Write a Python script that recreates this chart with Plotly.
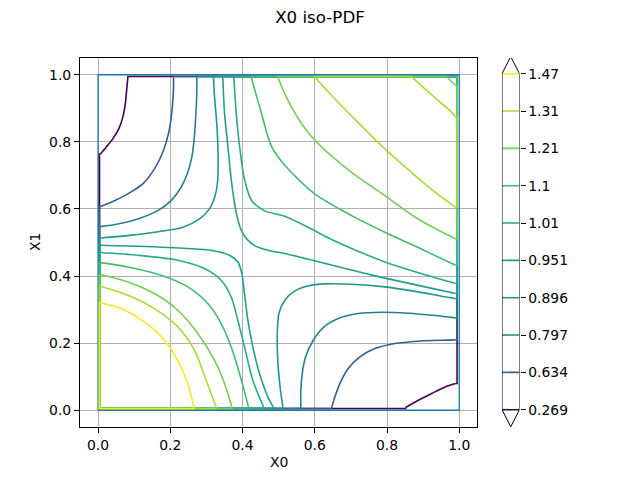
import plotly.graph_objects as go
from plotly.colors import sample_colorscale

# ---------------- data ----------------
levels = [0.269, 0.634, 0.797, 0.896, 0.951, 1.01, 1.1, 1.21, 1.31, 1.47]
level_labels = ["0.269", "0.634", "0.797", "0.896", "0.951", "1.01", "1.1", "1.21", "1.31", "1.47"]
axis_ticks = [0.0, 0.2, 0.4, 0.6, 0.8, 1.0]
axis_ticktext = ["0.0", "0.2", "0.4", "0.6", "0.8", "1.0"]

# contour offsets along the domain edges (contours hug the boundary where PDF drops to 0)
edge_left, edge_bottom, edge_right, edge_top = 0.004, 0.005, 0.994, 0.995

# top-left pieces (left edge -> top edge)
tl_0269_x = [0.0066, 0.0222, 0.0407, 0.0573, 0.0684, 0.0759, 0.0795, 0.0826]
tl_0269_y = [0.764, 0.784, 0.809, 0.8385, 0.873, 0.918, 0.958, 0.9935]
tl_0634_x = [0.0066, 0.0407, 0.0823, 0.1238, 0.1561, 0.1792, 0.1958, 0.2042, 0.2088, 0.2088]
tl_0634_y = [0.607, 0.622, 0.6448, 0.6746, 0.7193, 0.769, 0.8286, 0.888, 0.958, 0.9935]
tl_0797_x = [0.0066, 0.0546, 0.1100, 0.1654, 0.2023, 0.2300, 0.2485, 0.2604, 0.2669, 0.2706, 0.2734, 0.2734]
tl_0797_y = [0.5474, 0.5554, 0.5703, 0.5951, 0.625, 0.6647, 0.7094, 0.759, 0.8187, 0.8783, 0.9478, 0.9935]
tl_0896_x = [0.0066, 0.0823, 0.1561, 0.2346, 0.2808, 0.3085, 0.3242, 0.3307, 0.3325, 0.3297, 0.3223, 0.3196]
tl_0896_y = [0.5136, 0.5206, 0.5306, 0.5455, 0.5703, 0.6001, 0.6398, 0.6796, 0.7392, 0.8385, 0.9379, 0.9935]

# bottom-right pieces (right edge -> bottom edge)
br_0269_x = [0.9899, 0.9604, 0.9234, 0.8865, 0.8514]
br_0269_y = [0.0795, 0.0695, 0.0497, 0.0298, 0.008]
br_0634_x = [0.9899, 0.9512, 0.8865, 0.8219, 0.7665, 0.7249, 0.6926, 0.6695, 0.6556, 0.6465]
br_0634_y = [0.2096, 0.2086, 0.2057, 0.1987, 0.1838, 0.159, 0.1242, 0.0795, 0.0397, 0.0069]
br_0797_x = [0.9899, 0.9327, 0.8588, 0.7850, 0.7203, 0.6649, 0.6234, 0.5957, 0.5745, 0.5652, 0.5615, 0.5615]
br_0797_y = [0.2752, 0.2822, 0.2891, 0.2921, 0.2881, 0.2732, 0.2464, 0.2086, 0.159, 0.1093, 0.0596, 0.0069]
br_0896_x = [0.9899, 0.9512, 0.8865, 0.7941, 0.7018, 0.6280, 0.5818, 0.5449, 0.5172, 0.5010, 0.4962, 0.4975, 0.5040, 0.5116]
br_0896_y = [0.3328, 0.3398, 0.3527, 0.3676, 0.3756, 0.3766, 0.3706, 0.3557, 0.3279, 0.290, 0.2300, 0.1500, 0.0700, 0.0099]

# bottom-left pieces (left edge -> bottom edge)
bl_0951_x = [0.0066, 0.1100, 0.2485, 0.3223, 0.3639, 0.3870, 0.3981, 0.4054, 0.4147, 0.4285, 0.4470, 0.4701, 0.4848]
bl_0951_y = [0.4918, 0.4888, 0.4819, 0.4749, 0.462, 0.4421, 0.4074, 0.3478, 0.2683, 0.1888, 0.1093, 0.0397, 0.0099]
bl_101_x = [0.0066, 0.1100, 0.2208, 0.2947, 0.3408, 0.3685, 0.3870, 0.4054, 0.4285, 0.4581]
bl_101_y = [0.470, 0.462, 0.4471, 0.4223, 0.3875, 0.3378, 0.2683, 0.1888, 0.0894, 0.0099]
bl_11_x = [0.0066, 0.0823, 0.1746, 0.2485, 0.3039, 0.3408, 0.3685, 0.3916, 0.4165]
bl_11_y = [0.440, 0.4272, 0.4024, 0.3676, 0.318, 0.2583, 0.1888, 0.1093, 0.0099]
bl_121_x = [0.0066, 0.0823, 0.1561, 0.2208, 0.2762, 0.3223, 0.3500, 0.3704]
bl_121_y = [0.4044, 0.3825, 0.3478, 0.2981, 0.2285, 0.149, 0.0795, 0.0099]
bl_131_x = [0.0066, 0.0823, 0.1561, 0.2208, 0.2670, 0.2993, 0.3270]
bl_131_y = [0.3696, 0.3428, 0.303, 0.2484, 0.1788, 0.0894, 0.0099]
bl_147_x = [0.0066, 0.0638, 0.1284, 0.1838, 0.2254, 0.2485, 0.2651]
bl_147_y = [0.320, 0.303, 0.2633, 0.2086, 0.1391, 0.0795, 0.0099]

# top-right pieces (top edge -> right edge)
tr_0951_x = [0.3454, 0.3500, 0.3593, 0.3685, 0.3824, 0.397, 0.412, 0.435, 0.47, 0.5255, 0.75, 0.9899]
tr_0951_y = [0.9935, 0.888, 0.789, 0.6895, 0.590, 0.535, 0.510, 0.490, 0.477, 0.465, 0.405, 0.348]
tr_101_x = [0.3759, 0.3824, 0.3916, 0.405, 0.425, 0.46, 0.517, 0.600, 0.6465, 0.8, 0.9899]
tr_101_y = [0.9935, 0.888, 0.789, 0.69, 0.625, 0.595, 0.578, 0.535, 0.509, 0.44, 0.378]
tr_11_x = [0.4239, 0.4516, 0.4793, 0.517, 0.600, 0.702, 0.794, 0.886, 0.9899]
tr_11_y = [0.9935, 0.888, 0.789, 0.730, 0.645, 0.580, 0.5306, 0.485, 0.432]
tr_121_x = [0.4978, 0.517, 0.56, 0.600, 0.702, 0.794, 0.886, 0.9899]
tr_121_y = [0.9935, 0.943, 0.86, 0.805, 0.709, 0.640, 0.570, 0.5107]
tr_121_corner_x = [0.9899, 0.9658]
tr_121_corner_y = [0.968, 0.9935]
tr_131_x = [0.600, 0.6557, 0.720, 0.794, 0.868, 0.933, 0.9899]
tr_131_y = [0.9935, 0.928, 0.858, 0.779, 0.709, 0.650, 0.605]
tr_131_inner_x = [0.9899, 0.979, 0.942, 0.905, 0.868]
tr_131_inner_y = [0.873, 0.888, 0.923, 0.958, 0.9935]

domain_x = [0, 1, 1, 0, 0]
domain_y = [0, 0, 1, 1, 0]


# ---------------- build contour paths: (edge polylines, interior curves) ----------------
def full_loop(tlx, tly, brx, bry):
    edges = [
        ([tlx[-1], tlx[-1], edge_right, edge_right, brx[0]], [tly[-1], edge_top, edge_top, bry[0], bry[0]]),
        ([brx[-1], brx[-1], edge_left, edge_left, tlx[0]], [bry[-1], edge_bottom, edge_bottom, tly[0], tly[0]]),
    ]
    return edges, [(list(tlx), list(tly)), (list(brx), list(bry))]


def bl_loop(x, y):
    edges = [([x[-1], x[-1], edge_left, edge_left, x[0]], [y[-1], edge_bottom, edge_bottom, y[0], y[0]])]
    return edges, [(list(x), list(y))]


def tr_loop(x, y, notch=None):
    curves = [(list(x), list(y))]
    if notch is None:
        edges = [([x[-1], edge_right, edge_right, x[0], x[0]], [y[-1], y[-1], edge_top, edge_top, y[0]])]
    else:
        nx, ny = notch
        edges = [([x[-1], edge_right, edge_right, nx[0]], [y[-1], y[-1], ny[0], ny[0]]),
                 ([nx[-1], nx[-1], x[0], x[0]], [ny[-1], edge_top, edge_top, y[0]])]
        curves.append((list(nx), list(ny)))
    return edges, curves


def combine(pieces):
    ex, ey, cx, cy = [], [], [], []
    for edges, curves in pieces:
        for px, py in edges:
            ex += px + [None]
            ey += py + [None]
        for px, py in curves:
            cx += px + [None]
            cy += py + [None]
    return (ex, ey), (cx, cy)


level_paths = [
    combine([full_loop(tl_0269_x, tl_0269_y, br_0269_x, br_0269_y)]),
    combine([full_loop(tl_0634_x, tl_0634_y, br_0634_x, br_0634_y)]),
    combine([full_loop(tl_0797_x, tl_0797_y, br_0797_x, br_0797_y)]),
    combine([full_loop(tl_0896_x, tl_0896_y, br_0896_x, br_0896_y)]),
    combine([bl_loop(bl_0951_x, bl_0951_y), tr_loop(tr_0951_x, tr_0951_y)]),
    combine([bl_loop(bl_101_x, bl_101_y), tr_loop(tr_101_x, tr_101_y)]),
    combine([bl_loop(bl_11_x, bl_11_y), tr_loop(tr_11_x, tr_11_y)]),
    combine([bl_loop(bl_121_x, bl_121_y), tr_loop(tr_121_x, tr_121_y, (tr_121_corner_x, tr_121_corner_y))]),
    combine([bl_loop(bl_131_x, bl_131_y), tr_loop(tr_131_x, tr_131_y, (tr_131_inner_x, tr_131_inner_y))]),
    combine([bl_loop(bl_147_x, bl_147_y)]),
]

lo, hi = min(levels), max(levels)
colors = sample_colorscale("Viridis", [(v - lo) / (hi - lo) for v in levels])

fig = go.Figure()

fig.add_trace(go.Scatter(x=domain_x, y=domain_y, mode="lines",
                         line=dict(color="#1f77b4", width=1.3), hoverinfo="skip", showlegend=False))

LW = 1.6
for ((ex, ey), (cx, cy)), c in zip(level_paths, colors):
    fig.add_trace(go.Scatter(x=ex, y=ey, mode="lines", line=dict(color=c, width=LW),
                             showlegend=False, connectgaps=False, hoverinfo="skip"))
    fig.add_trace(go.Scatter(x=cx, y=cy, mode="lines",
                             line=dict(color=c, width=LW, shape="spline", smoothing=0.8),
                             showlegend=False, connectgaps=False, hoverinfo="skip"))

# ---------------- colorbar (manual, matplotlib style with extend arrows) ----------------
n = len(levels)
idx = list(range(n))
ext = 0.455
outline_x = [0, 0.5, 1, 1, 0.5, 0, 0]
outline_y = [0, -ext, 0, n - 1, n - 1 + ext, n - 1, 0]
for i in idx:
    fig.add_trace(go.Scatter(x=[0, 1], y=[i, i], mode="lines", xaxis="x2", yaxis="y2",
                             line=dict(color=colors[i], width=1.6), showlegend=False, hoverinfo="skip",
                             cliponaxis=False))
fig.add_trace(go.Scatter(x=outline_x, y=outline_y, mode="lines", xaxis="x2", yaxis="y2",
                         line=dict(color="black", width=1), showlegend=False, hoverinfo="skip",
                         cliponaxis=False))

# ---------------- layout ----------------
W, H = 640, 480
ml, mr, mt, mb = 80, 40, 58, 53
pw = W - ml - mr
ph = H - mt - mb
main_right = (477.3 - ml) / pw
cb_l = (502 - ml) / pw
cb_r = (519.5 - ml) / pw

font = "DejaVu Sans"
axis_common = dict(
    showline=True, linecolor="black", linewidth=1.1, mirror=True,
    ticks="outside", ticklen=5, tickwidth=1.1, tickcolor="black",
    showgrid=True, gridcolor="#b0b0b0", gridwidth=1.1, zeroline=False,
    tickfont=dict(family=font, size=13.9, color="black"),
    tickvals=axis_ticks, ticktext=axis_ticktext,
)


def px_x(v):
    return (v - ml) / pw


def px_y(v):
    return (H - mb - v) / ph


fig.update_layout(
    width=W, height=H,
    margin=dict(l=ml, r=mr, t=mt, b=mb, pad=0),
    paper_bgcolor="white", plot_bgcolor="white",
    font=dict(family=font, color="black"),
    title=dict(text="X0 iso-PDF", x=0.5, xref="container", xanchor="center",
               y=1 - 17 / H, yref="container", yanchor="middle",
               font=dict(family=font, size=16.7, color="black")),
    xaxis=dict(domain=[0, main_right], range=[-0.05, 1.05], **axis_common),
    yaxis=dict(domain=[0, 1], range=[-0.05, 1.05], **axis_common),
    xaxis2=dict(domain=[cb_l, cb_r], range=[0, 1], anchor="y2", visible=False, fixedrange=True),
    yaxis2=dict(domain=[0, 1], range=[-0.4634, 9.4205], anchor="x2", side="right",
                showline=False, showgrid=False, zeroline=False,
                ticks="outside", ticklen=5, tickwidth=1.1, tickcolor="black",
                tickvals=idx, ticktext=level_labels,
                tickfont=dict(family=font, size=13.9, color="black")),
    annotations=[
        dict(text="X0", x=px_x((80.3 + 477.3) / 2), y=px_y(462), xref="paper", yref="paper",
             xanchor="center", yanchor="middle", showarrow=False,
             font=dict(family=font, size=13.9, color="black")),
        dict(text="X1", x=px_x(35), y=px_y(242), xref="paper", yref="paper",
             xanchor="center", yanchor="middle", showarrow=False, textangle=-90,
             font=dict(family=font, size=13.9, color="black")),
    ],
)

fig.write_html("out.html")
